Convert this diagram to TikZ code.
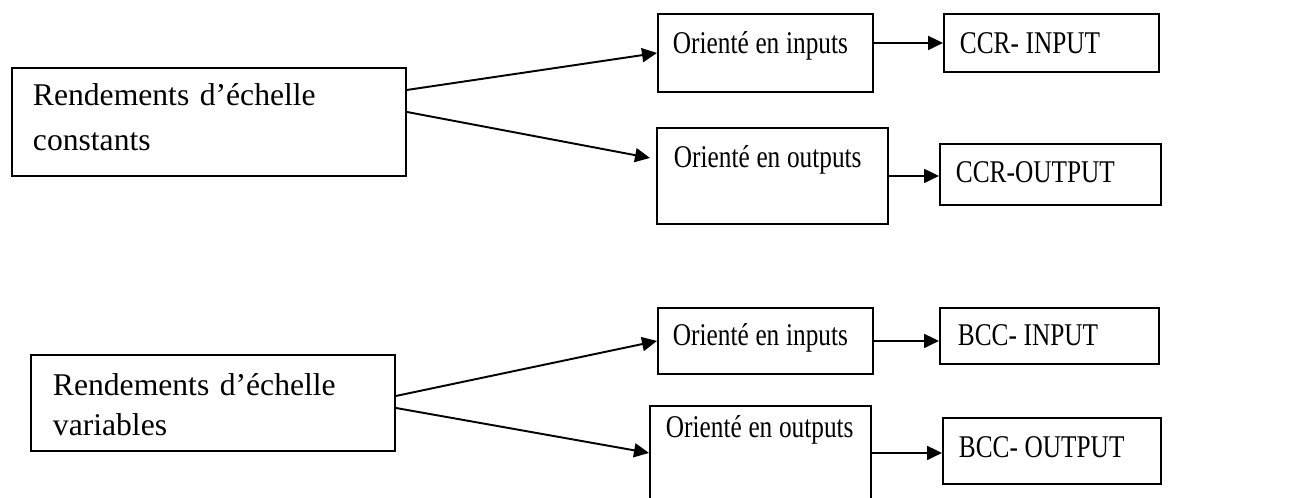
\documentclass[tikz,border=0pt]{standalone}
\usepackage{fontspec}
\setmainfont{Liberation Serif}
\newfontfamily\etroit{Liberation Serif}[FakeStretch=0.8]
\usetikzlibrary{arrows.meta}

\tikzset{
  boite/.style={draw, line width=1.1pt, anchor=north west, inner ysep=0pt, align=left},
  gauche/.style={font=\fontsize{18}{25.5}\selectfont},
  droite/.style={font=\etroit\fontsize{18}{22}\selectfont, execute at begin node={\spaceskip=3.8pt\relax}},
  fleche/.style={line width=1.1pt, -{Triangle[length=0.30cm, width=0.28cm]}}
}

\begin{document}
\begin{tikzpicture}[x=0.02cm, y=-0.02cm]

\useasboundingbox (0,0) rectangle (1290,497);

% rendements constants
\node[boite, gauche, inner xsep=0.42cm, text width=7.04cm, text height=0.76cm, text depth=1.40cm]
  (constants) at (11,67) {Rendements d'échelle\\constants};

\node[boite, droite, inner xsep=0.30cm, text width=3.70cm, text height=0.80cm, text depth=0.76cm]
  (inA) at (657,13) {\mbox{Orienté en inputs}};
\node[boite, droite, inner xsep=0.32cm, text width=3.66cm, text height=0.80cm, text depth=0.36cm]
  (ccrin) at (943,13) {\mbox{CCR- INPUT}};
\node[boite, droite, inner xsep=0.34cm, text width=3.94cm, text height=0.80cm, text depth=1.12cm]
  (outA) at (656,127) {\mbox{Orienté en outputs}};
\node[boite, droite, inner xsep=0.32cm, text width=3.78cm, text height=0.78cm, text depth=0.44cm]
  (ccrout) at (939,143) {\mbox{CCR-OUTPUT}};

% rendements variables
\node[boite, gauche, font=\fontsize{18}{22.7}\selectfont, inner xsep=0.44cm, text width=6.40cm, text height=0.82cm, text depth=1.10cm]
  (variables) at (30,354) {Rendements d'échelle\\variables};

\node[boite, droite, inner xsep=0.30cm, text width=3.70cm, text height=0.76cm, text depth=0.56cm]
  (inB) at (657,307) {\mbox{Orienté en inputs}};
\node[boite, droite, inner xsep=0.36cm, text width=3.66cm, text height=0.76cm, text depth=0.36cm]
  (bccin) at (939,307) {\mbox{BCC- INPUT}};
\node[boite, droite, inner xsep=0.32cm, text width=3.78cm, text height=0.64cm, text depth=1.24cm]
  (outB) at (649,405) {\mbox{Orienté en outputs}};
\node[boite, droite, inner xsep=0.32cm, text width=3.72cm, text height=0.80cm, text depth=0.52cm]
  (bccout) at (942,417) {\mbox{BCC- OUTPUT}};

% fleches
\draw[fleche] ([yshift=0.64cm]constants.east) -- (inA.west);
\draw[fleche] ([yshift=0.20cm]constants.east) -- ([xshift=-0.12cm, yshift=0.36cm]outA.west);
\draw[fleche] (ccrin.west -| inA.east) -- (ccrin.west);
\draw[fleche] (outA.east) -- (outA.east -| ccrout.west);

\draw[fleche] ([yshift=0.14cm]variables.east) -- (inB.west);
\draw[fleche] ([yshift=-0.10cm]variables.east) -- (outB.west);
\draw[fleche] (inB.east) -- (inB.east -| bccin.west);
\draw[fleche] (outB.east) -- (outB.east -| bccout.west);

\end{tikzpicture}
\end{document}
